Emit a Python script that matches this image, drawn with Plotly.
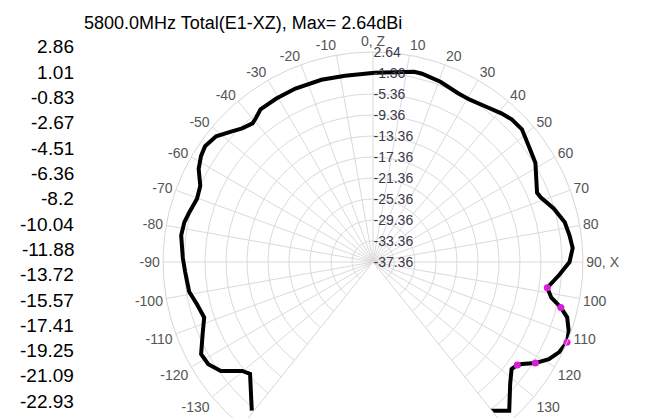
import math
import plotly.graph_objects as go

# ---- data ----
title_text = "5800.0MHz Total(E1-XZ), Max= 2.64dBi"

theta_deg = [-140.8, -132.3, -129.8, -125.6, -121.8, -118.2, -113.0, -108.2, -103.6, -99.2,
             -93.0, -88.8, -82.1, -78.1, -74.9, -70.2, -66.2, -61.9, -58.4, -55.4,
             -51.3, -47.2, -44.4, -41.0, -39.2, -36.4, -30.6, -24.1, -15.8, -8.5,
             0.5, 12.2, 14.6, 20.5, 26.9, 30.8, 35.9, 40.8, 44.2, 48.3,
             54.3, 58.6, 67.1, 69.0, 73.5, 78.3, 82.3, 86.0, 90.0, 94.0,
             98.4, 101.3, 103.6, 105.9, 109.5, 112.5, 115.8, 118.9, 121.9, 124.4,
             125.5, 127.7, 131.6, 137.5, 175.0, 179.3, 181.0, 190.0, 199.0]
gain_db = [-0.83, -5.7, -4.95, -1.72, -0.44, -0.21, -2.1, -3.51, -2.89, -1.89,
           -1.53, -1.13, -0.47, -0.64, -1.1, -1.74, -1.4, 0.28, 1.11, 1.5,
           0.94, -0.72, -1.74, -2.38, -2.04, -1.25, -1.19, -1.17, -1.28, -1.5,
           -1.32, -0.28, -0.3, -0.7, -1.38, -1.36, -0.79, 0.04, 0.53, 0.64,
           -0.53, -1.12, -3.44, -3.1, -1.47, -0.06, 0.41, 0.77, 0.07, -1.81,
           -3.8, -2.72, -0.55, 1.09, 2.19, 2.64, 2.05, 0.9, -0.93, -2.96,
           -3.6, -4.0, -2.42, 1.05, -8.9, -12.6, -12.8, -9.4, -7.4]

marker_theta = [98.4, 103.6, 112.5, 121.9, 125.5]
marker_gain = [-3.8, -0.55, 2.64, -0.93, -3.6]

radial_ticks = [-37.36, -33.36, -29.36, -25.36, -21.36, -17.36, -13.36, -9.36, -5.36, -1.36, 2.64]
angle_ticks = [-130, -120, -110, -100, -90, -80, -70, -60, -50, -40, -30, -20, -10,
               0, 10, 20, 30, 40, 50, 60, 70, 80, 90, 100, 110, 120, 130]
angle_labels = ["0, Z" if a == 0 else ("90, X" if a == 90 else str(a)) for a in angle_ticks]

scale_labels = ["2.86", "1.01", "-0.83", "-2.67", "-4.51", "-6.36", "-8.2", "-10.04",
                "-11.88", "-13.72", "-15.57", "-17.41", "-19.25", "-21.09", "-22.93"]

FONT = "Arial, Liberation Sans, sans-serif"
W, H = 652, 418

fig = go.Figure()
fig.add_trace(go.Scatterpolar(r=gain_db, theta=theta_deg, mode="lines",
                              line=dict(color="black", width=4),
                              showlegend=False, hoverinfo="skip"))
fig.add_trace(go.Scatterpolar(r=marker_gain, theta=marker_theta, mode="markers",
                              marker=dict(color="#d81ed8", size=7),
                              showlegend=False, hoverinfo="skip"))

# polar placement (pixels): centre and outer radius
cx, cy, R = 365, 254, 210
below = H - cy
half_open = math.degrees(math.asin(below / R))
fig.update_layout(
    width=W, height=H,
    margin=dict(l=0, r=0, t=0, b=0),
    paper_bgcolor="white",
    font=dict(family=FONT),
    title=dict(text=title_text, x=76 / W, xanchor="left", y=1 - 15 / H, yanchor="middle",
               font=dict(size=18, color="black", family=FONT)),
    polar=dict(
        domain=dict(x=[(cx - R) / W, (cx + R) / W], y=[0, (H - (cy - R)) / H]),
        sector=[-half_open, 180 + half_open],
        bgcolor="white",
        angularaxis=dict(rotation=90, direction="clockwise", thetaunit="degrees",
                         tickmode="array", tickvals=angle_ticks, ticktext=angle_labels,
                         showline=True, linecolor="#d6d6d6", linewidth=1,
                         gridcolor="#dadada", gridwidth=1, ticks="", ticklen=0,
                         tickfont=dict(size=14, color="#555555", family=FONT)),
        radialaxis=dict(range=[-37.3601, 2.6401], angle=90, tickangle=90,
                        tickmode="array", tickvals=radial_ticks,
                        ticktext=[f"{v:.2f}" for v in radial_ticks],
                        showline=False, gridcolor="#dadada", gridwidth=1, ticks="",
                        side="clockwise",
                        tickfont=dict(size=14, color="#3a3a48", family=FONT)),
    ),
)

for i, lab in enumerate(scale_labels):
    fig.add_annotation(text=lab, xref="paper", yref="paper", x=68 / W, xanchor="right",
                       y=1 - (39 + i * 25.3) / H, yanchor="middle", showarrow=False,
                       font=dict(size=19, color="black", family=FONT))

fig.write_html("out.html")
